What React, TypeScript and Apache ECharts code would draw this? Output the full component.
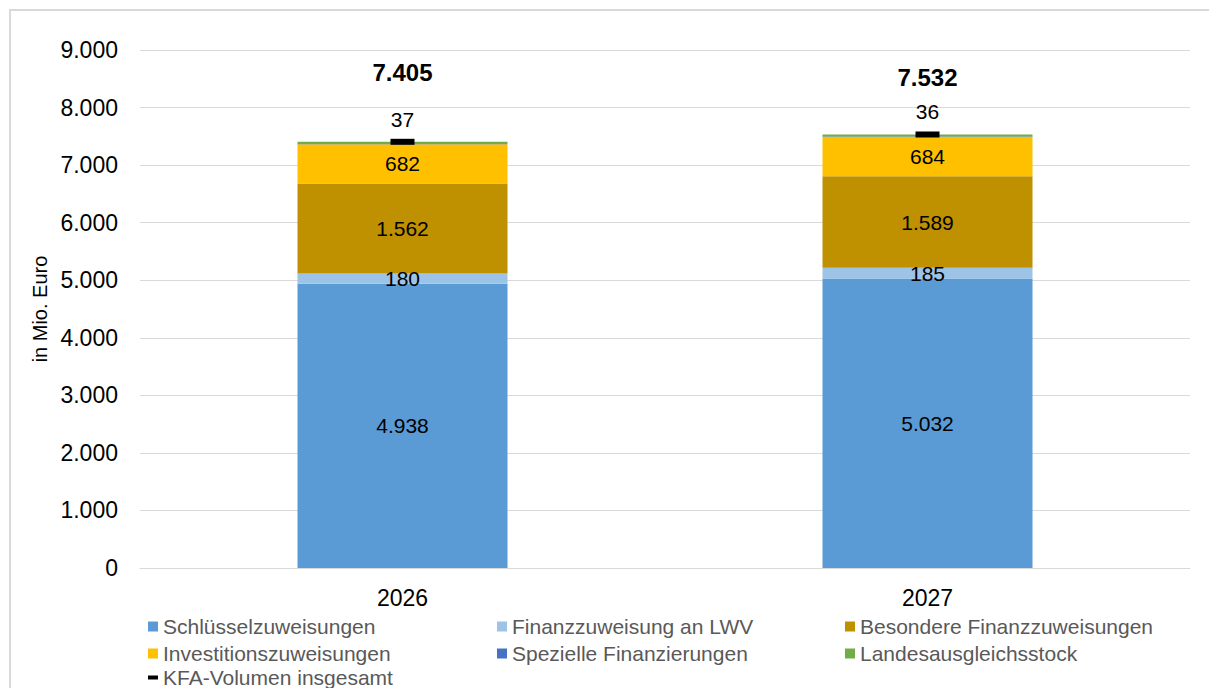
import React, { useEffect, useRef } from "react";
import * as echarts from "echarts";

const years = ["2026", "2027"];
const schluessel = [4938, 5032];
const lwv = [180, 185];
const besondere = [1562, 1589];
const invest = [682, 684];
const spezielle = [6, 6];
const landes = [37, 36];
const kfaTotal = [7405, 7532];
const totalLabelOffsets = [-12, 0];

const fmt = (v: number) => {
  const s = Math.round(v).toString();
  return s.replace(/\B(?=(\d{3})+(?!\d))/g, ".");
};

const FONT = "Liberation Sans, Arial, sans-serif";

export default function App() {
  const ref = useRef<HTMLDivElement>(null);
  useEffect(() => {
    const chart = echarts.init(ref.current!, null, { renderer: "svg" });
    const labelIn = {
      show: true,
      position: "inside",
      color: "#000",
      fontSize: 21,
      fontFamily: FONT,
      formatter: (p: any) => fmt(p.value),
    };
    const mkBar = (name: string, data: number[], color: string, label: any) => ({
      name,
      type: "bar",
      stack: "s",
      data,
      barWidth: "40%",
      itemStyle: { color },
      label,
      emphasis: { disabled: true },
    });
    const legendText = { fontSize: 21, color: "#595959", fontFamily: FONT, lineHeight: 21 };
    const mkLegend = (left: number, data: any[], extra: any = {}) => ({
      orient: "vertical",
      left,
      top: 611,
      itemGap: 6,
      itemWidth: 10,
      itemHeight: 10,
      icon: "rect",
      textStyle: legendText,
      data,
      selectedMode: false,
      ...extra,
    });
    chart.setOption({
      animation: false,
      textStyle: { fontFamily: FONT },
      graphic: [
        {
          type: "rect",
          shape: { x: 10, y: 10, width: 1300, height: 800 },
          style: { fill: "none", stroke: "#D9D9D9", lineWidth: 2 },
          silent: true,
        },
      ],
      grid: { left: 140, right: 19, top: 50, bottom: 120 },
      xAxis: {
        type: "category",
        data: years,
        axisLine: { lineStyle: { color: "#D9D9D9", width: 1 } },
        axisTick: { show: false },
        axisLabel: { color: "#000", fontSize: 23, margin: 18, fontFamily: FONT },
      },
      yAxis: {
        type: "value",
        min: 0,
        max: 9000,
        interval: 1000,
        name: "in Mio. Euro",
        nameLocation: "middle",
        nameGap: 88,
        nameTextStyle: { color: "#000", fontSize: 20, fontFamily: FONT },
        axisLine: { show: false },
        axisTick: { show: false },
        splitLine: { lineStyle: { color: "#D9D9D9", width: 1 } },
        axisLabel: {
          color: "#000",
          fontSize: 23,
          margin: 22,
          fontFamily: FONT,
          formatter: (v: number) => fmt(v),
        },
      },
      legend: [
        mkLegend(143, ["Schlüsselzuweisungen", "Investitionszuweisungen"]),
        mkLegend(492, ["Finanzzuweisung an LWV", "Spezielle Finanzierungen"]),
        mkLegend(840, ["Besondere Finanzzuweisungen", "Landesausgleichsstock"]),
        mkLegend(143, [{ name: "KFA-Volumen insgesamt", icon: "rect" }], {
          top: 662,
          itemHeight: 4,
          itemWidth: 10,
        }),
      ],
      series: [
        mkBar("Schlüsselzuweisungen", schluessel, "#5B9BD5", labelIn),
        mkBar("Finanzzuweisung an LWV", lwv, "#9DC3E6", labelIn),
        mkBar("Besondere Finanzzuweisungen", besondere, "#BF9000", labelIn),
        mkBar("Investitionszuweisungen", invest, "#FFC000", labelIn),
        mkBar("Spezielle Finanzierungen", spezielle, "#4472C4", { show: false }),
        mkBar("Landesausgleichsstock", landes, "#70AD47", {
          show: true,
          position: "top",
          distance: 12,
          color: "#000",
          fontSize: 21,
          fontFamily: FONT,
          formatter: (p: any) => fmt(p.value),
        }),
        {
          name: "KFA-Volumen insgesamt",
          type: "line",
          data: kfaTotal.map((v, i) => ({
            value: v,
            label: { offset: [0, totalLabelOffsets[i]] },
          })),
          symbol: "rect",
          symbolSize: [24, 6],
          itemStyle: { color: "#000" },
          lineStyle: { width: 0, opacity: 0 },
          z: 10,
          label: {
            show: true,
            position: "top",
            distance: 42,
            color: "#000",
            fontSize: 24,
            fontWeight: "bold",
            fontFamily: FONT,
            formatter: (p: any) => fmt(p.value),
          },
          emphasis: { disabled: true },
        },
      ],
    });
    return () => chart.dispose();
  }, []);
  return (
    <div
      ref={ref}
      style={{ position: "absolute", left: 0, top: 0, width: 1209, height: 688, background: "#fff" }}
    />
  );
}
